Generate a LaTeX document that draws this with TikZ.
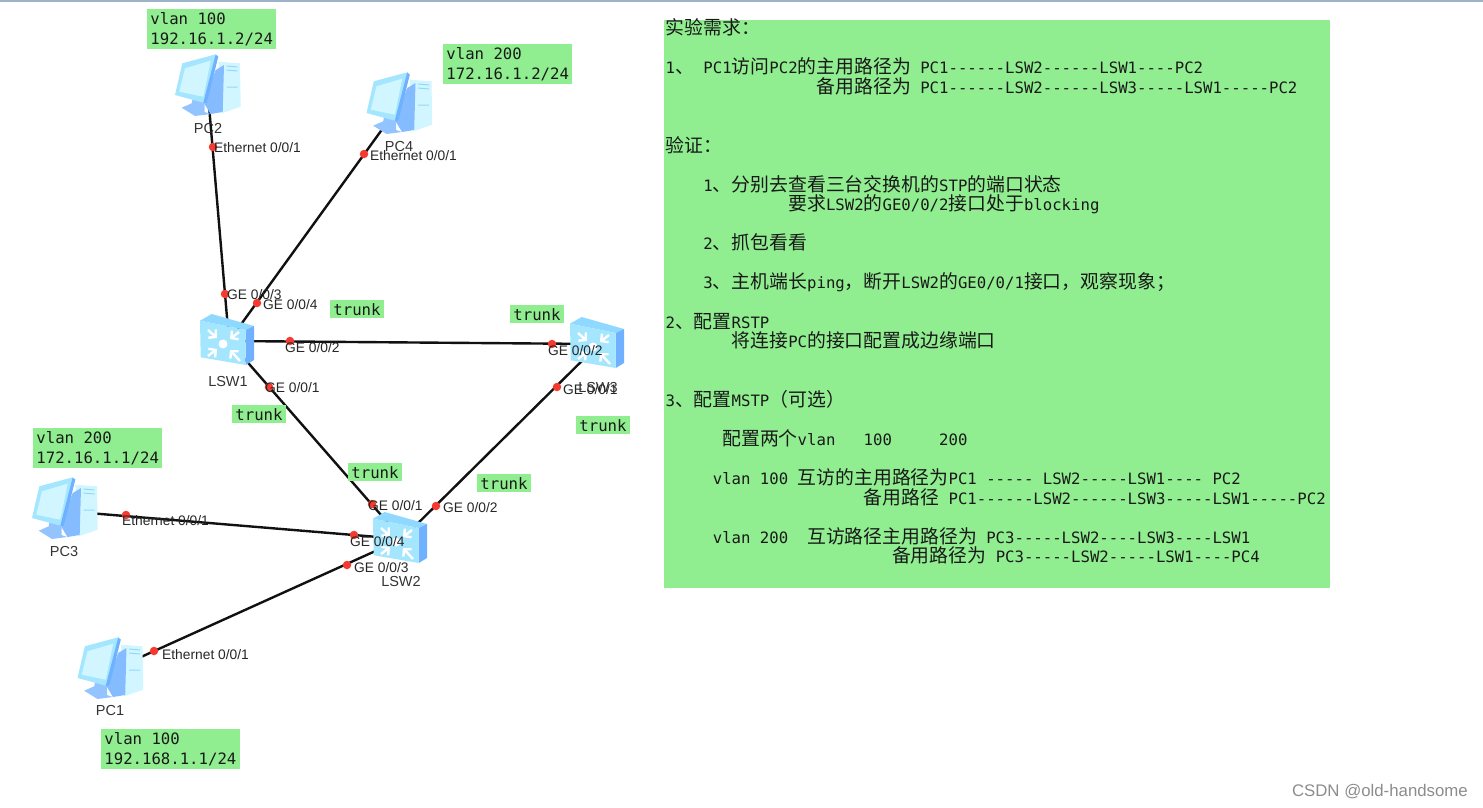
\documentclass[tikz,border=0pt]{standalone}
\usepackage{fontspec}
\setsansfont{Liberation Sans}
\setmonofont{DejaVu Sans Mono}
\newfontfamily\cjk{Noto Sans CJK SC}
\usetikzlibrary{arrows.meta}

\definecolor{tagGreen}{HTML}{90EE90}
\definecolor{portRed}{HTML}{F53B30}
\definecolor{linkBlack}{HTML}{111111}
\definecolor{iconLight}{HTML}{A5E6FF}
\definecolor{iconPale}{HTML}{D2F6FF}
\definecolor{iconBlue}{HTML}{6FB0FF}
\definecolor{iconTop}{HTML}{8FD8FF}
\definecolor{barGray}{HTML}{9FB3C8}

\newcommand{\cn}[1]{{\fontsize{18.86}{19.56}\cjk #1}}
\newcommand{\sk}[1]{\hspace*{\dimexpr #1\dimexpr 9.43pt\relax\relax}}

\tikzset{
  linkline/.style={line width=2.4pt,linkBlack},
  portdot/.style={circle,fill=portRed,minimum size=8.5pt,inner sep=0pt},
  portlabel/.style={anchor=west,inner sep=0pt,text=black!85,font=\sffamily\fontsize{13.8}{14}\selectfont},
  devlabel/.style={inner sep=0pt,text=black!80,font=\sffamily\fontsize{14.5}{15}\selectfont},
  tag/.style={anchor=north west,fill=tagGreen,inner xsep=3.2pt,inner ysep=3pt,align=left,text=black!90,
    font=\ttfamily\fontsize{15.66}{20}\selectfont},
  switcharrow/.style={white,line width=2.4pt,-{Straight Barb[length=5pt,width=11pt]}},
  pcicon/.pic={
    \fill[iconPale] (10.8,-26.3) -- (32.5,-24.7) -- (33.2,18.7) -- (14.2,25.3) -- cycle;
    \fill[iconBlue!85] (8.2,-18) -- (16.5,-23) -- (15.2,24) -- (3,26) -- (-4.2,14) -- cycle;
    \fill[iconBlue!75] (-25.8,19.7) -- (-15.8,15.3) -- (-15,11) -- (-3,13) -- (-3,24) -- (3,26) -- (-12.5,28) -- cycle;
    \fill[iconLight] (-25.2,-24.7) -- (8.2,-33.7) -- (-0.8,15.3) -- (-4.2,14.7) -- (-32.5,7) -- cycle;
    \fill[iconBlue] (8.2,-33.7) -- (10.8,-31.3) -- (-0.8,15.3) -- (-4.2,14.7) -- cycle;
    \fill[iconPale] (-22.5,-19.7) -- (3.2,-27.3) -- (-4.2,8.7) -- (-28.2,3.7) -- cycle;
    \draw[iconTop,line width=1pt] (19,-22) -- (30,-21) (19,-18) -- (30,-17) (19,-1) -- (30,-1);
  },
  switchicon/.pic={
    \fill[iconTop] (-29,-20.3) -- (-17.3,-27) -- (25,-15) -- (16.7,-11) -- cycle;
    \fill[iconBlue] (16.7,-11) -- (25,-15) -- (25,19) -- (16.7,24) -- cycle;
    \fill[iconLight] (-29,-20.3) -- (16.7,-11) -- (16.7,24) -- (-28.3,16.3) -- cycle;
    \fill[white] (-6,3) circle (4.5);
    \draw[switcharrow] (-21,-11) -- (-12,-3);
    \draw[switcharrow] (10,-9) -- (1,-2);
    \draw[switcharrow] (-21,15) -- (-12,8);
    \draw[switcharrow] (11,20) -- (1,9);
  },
}

\begin{document}
\begin{tikzpicture}[x=1pt,y=-1pt]
\useasboundingbox (0,0) rectangle (1483,808);

% Window edge along the top
\fill[barGray] (0,0) rectangle (1483,2);

\coordinate (PC1) at (110,671);
\coordinate (PC2) at (207.5,88);
\coordinate (PC3) at (64.5,511);
\coordinate (PC4) at (399,106);
\coordinate (LSW1) at (229,341);
\coordinate (LSW2) at (402,539);
\coordinate (LSW3) at (599,344);

% Links
\draw[linkline] (PC2) -- (LSW1);
\draw[linkline] (PC4) -- (LSW1);
\draw[linkline] (LSW1) -- (LSW3);
\draw[linkline] (LSW1) -- (LSW2);
\draw[linkline] (LSW3) -- (LSW2);
\draw[linkline] (PC3) -- (LSW2);
\draw[linkline] (PC1) -- (LSW2);

% Devices
\foreach \dev in {PC1,PC2,PC3,PC4} {
  \pic at (\dev) {pcicon};
}
\foreach \dev in {LSW1,LSW2,LSW3} {
  \pic at (\dev) {switchicon};
}
\node[devlabel] (PC1label) at (110,711) {PC1};
\node[devlabel] (PC2label) at (208,129) {PC2};
\node[devlabel] (PC3label) at (64,552) {PC3};
\node[devlabel] (PC4label) at (399,147) {PC4};
\node[devlabel] (LSW1label) at (228,382) {LSW1};
\node[devlabel] (LSW2label) at (401,582) {LSW2};
\node[devlabel] (LSW3label) at (598,388) {LSW3};

% Port dots and port names
\foreach \tagname/\dx/\dy/\lx/\ly/\txt in {
  a/213/147/214/148/{Ethernet 0/0/1},
  b/364/154/370/156/{Ethernet 0/0/1},
  c/225/294/227/295/{GE 0/0/3},
  d/257/303/263/305/{GE 0/0/4},
  e/290/341/285/348/{GE 0/0/2},
  f/269/387/265/388/{GE 0/0/1},
  g/552/344/548/351/{GE 0/0/2},
  h/557/387/563/390/{GE 0/0/1},
  i/372/504/368/506/{GE 0/0/1},
  j/436/506/443/508/{GE 0/0/2},
  k/354/535/350/542/{GE 0/0/4},
  l/347/565/354/568/{GE 0/0/3},
  m/126/515/122/521/{Ethernet 0/0/1},
  n/154/651/162/655/{Ethernet 0/0/1}} {
  \node[portdot] (dot\tagname) at (\dx,\dy) {};
  \node[portlabel] (name\tagname) at (\lx,\ly) {\txt};
}

% Address tags
\node[tag] (tagPCtwo) at (147,9) {vlan 100\\192.16.1.2/24};
\node[tag] (tagPCfour) at (443,44) {vlan 200\\172.16.1.2/24};
\node[tag] (tagPCthree) at (33,428) {vlan 200\\172.16.1.1/24};
\node[tag] (tagPCone) at (101,729) {vlan 100\\192.168.1.1/24};

% Trunk tags
\node[tag] (trunkA) at (330,300) {trunk};
\node[tag] (trunkB) at (510,305) {trunk};
\node[tag] (trunkC) at (232,405) {trunk};
\node[tag] (trunkD) at (348,463) {trunk};
\node[tag] (trunkE) at (477,474) {trunk};
\node[tag] (trunkF) at (576,416) {trunk};

% Requirements panel
\fill[tagGreen] (664,20) rectangle (1330,588);
\node[anchor=north west,inner sep=0pt,align=left,text=black!90,
  font=\ttfamily\fontsize{15.66}{19.56}\selectfont] (reqtext) at (665.5,18.5) {%
\cn{实验需求：}\\
\\
1\cn{、}\sk{1}PC1\cn{访问}PC2\cn{的主用路径为}\sk{1}PC1------LSW2------LSW1----PC2\\
\sk{16}\cn{备用路径为}\sk{1}PC1------LSW2------LSW3-----LSW1-----PC2\\
\\
\\
\cn{验证：}\\
\\
\sk{4}1\cn{、分别去查看三台交换机的}STP\cn{的端口状态}\\
\sk{13}\cn{要求}LSW2\cn{的}GE0/0/2\cn{接口处于}blocking\\
\\
\sk{4}2\cn{、抓包看看}\\
\\
\sk{4}3\cn{、主机端长}ping\cn{，断开}LSW2\cn{的}GE0/0/1\cn{接口，观察现象；}\\
\\
2\cn{、配置}RSTP\\
\sk{7}\cn{将连接}PC\cn{的接口配置成边缘端口}\\
\\
\\
3\cn{、配置}MSTP\cn{（可选）}\\
\\
\sk{6}\cn{配置两个}vlan\sk{3}100\sk{5}200\\
\\
\sk{5}vlan\sk{1}100\sk{1}\cn{互访的主用路径为}PC1\sk{1}-----\sk{1}LSW2-----LSW1----\sk{1}PC2\\
\sk{21}\cn{备用路径}\sk{1}PC1------LSW2------LSW3-----LSW1-----PC2\\
\\
\sk{5}vlan\sk{1}200\sk{2}\cn{互访路径主用路径为}\sk{1}PC3-----LSW2----LSW3----LSW1\\
\sk{24}\cn{备用路径为}\sk{1}PC3-----LSW2-----LSW1----PC4};

% Watermark
\node[anchor=east,inner sep=0pt,text=black!45,font=\sffamily\fontsize{16.8}{17}\selectfont] (mark) at (1468,792) {CSDN @old-handsome};
\end{tikzpicture}
\end{document}
